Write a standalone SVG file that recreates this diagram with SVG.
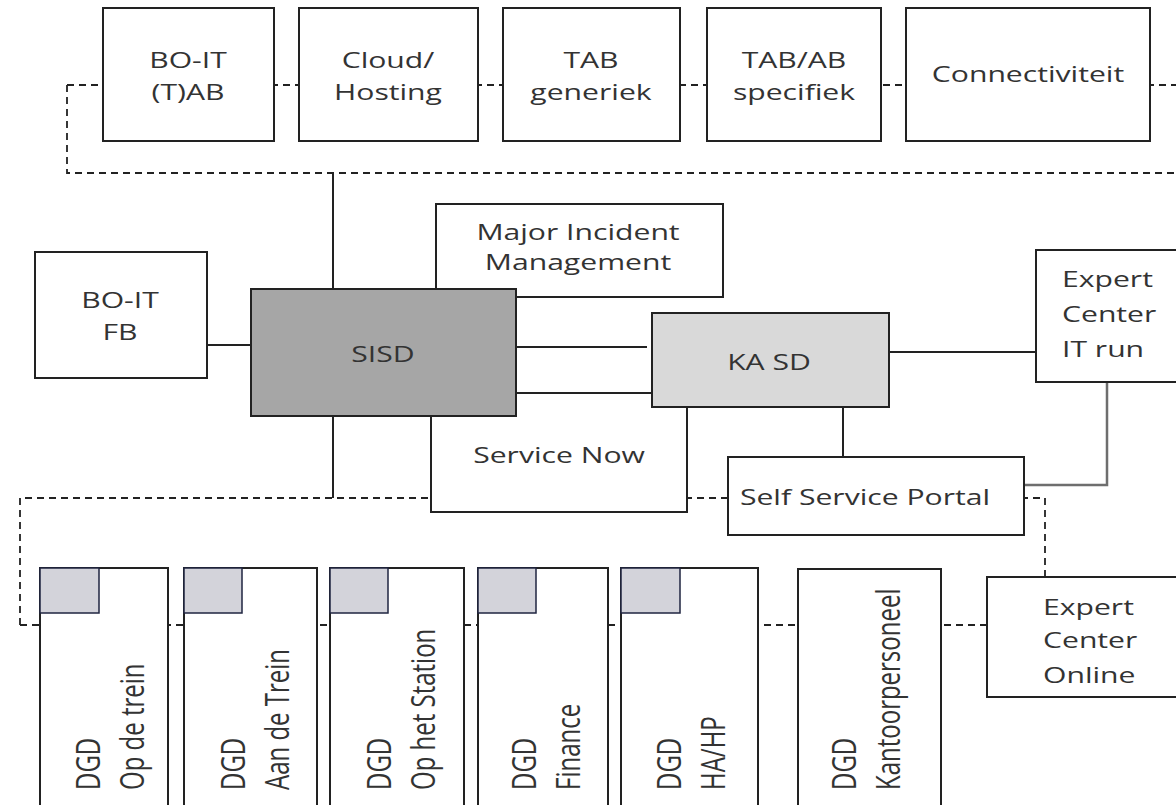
<svg xmlns="http://www.w3.org/2000/svg" width="1176" height="805" viewBox="0 0 1176 805">
<style>
.b{fill:#fff;stroke:#222;stroke-width:2}
.sisd{fill:#a6a6a6;stroke:#222;stroke-width:2}
.ka{fill:#d9d9d9;stroke:#222;stroke-width:2}
.sq{fill:#d3d3da;stroke:#1f2540;stroke-width:1.5}
.ln{fill:none;stroke:#222;stroke-width:2}
.gl{fill:none;stroke:#6e6e6e;stroke-width:2.5}
.dl{fill:none;stroke:#222;stroke-width:1.8;stroke-dasharray:7 5}
text{font-family:"Open Sans","Noto Sans","DejaVu Sans",sans-serif;font-size:22px;fill:#333}
.r{font-size:24px}
.c{text-anchor:middle}
</style>
<rect width="1176" height="805" fill="#fff"/>
<g id="connectors">
<path class="dl" d="M67,85 H1176 M67,85 V173 H1176"/>
<path class="ln" d="M333,173 V289"/>
<path class="ln" d="M207,345 H251"/>
<path class="ln" d="M516,347 H647"/>
<path class="ln" d="M889,352 H1036"/>
<path class="ln" d="M843,407 V457"/>
<path class="ln" d="M333,416 V498"/>
<path class="gl" d="M1107,382 V485 H1024"/>
<path class="dl" d="M20,625 V498 H1045 V577"/>
<path class="dl" d="M20,625 H987"/>
</g>
<g id="n-bo-it-tab"><rect class="b" x="103" y="8" width="171" height="133"/>
<text class="c" transform="translate(188 68) scale(1.37 1)">BO-IT</text>
<text class="c" transform="translate(188 100) scale(1.37 1)">(T)AB</text></g>
<g id="n-cloud"><rect class="b" x="299" y="8" width="179" height="133"/>
<text class="c" transform="translate(388 68) scale(1.37 1)">Cloud/</text>
<text class="c" transform="translate(388 100) scale(1.37 1)">Hosting</text></g>
<g id="n-tab-generiek"><rect class="b" x="503" y="8" width="177" height="133"/>
<text class="c" transform="translate(591 68) scale(1.37 1)">TAB</text>
<text class="c" transform="translate(591 100) scale(1.37 1)">generiek</text></g>
<g id="n-tab-specifiek"><rect class="b" x="707" y="8" width="174" height="133"/>
<text class="c" transform="translate(794 68) scale(1.37 1)">TAB/AB</text>
<text class="c" transform="translate(794 100) scale(1.37 1)">specifiek</text></g>
<g id="n-connectiviteit"><rect class="b" x="906" y="8" width="244" height="133"/>
<text class="c" transform="translate(1028 82) scale(1.37 1)">Connectiviteit</text></g>
<g id="n-bo-it-fb"><rect class="b" x="35" y="252" width="172" height="126"/>
<text class="c" transform="translate(120 308) scale(1.37 1)">BO-IT</text>
<text class="c" transform="translate(120 340) scale(1.37 1)">FB</text></g>
<g id="n-mim"><rect class="b" x="436" y="204" width="287" height="93"/>
<text class="c" transform="translate(578 240) scale(1.37 1)">Major Incident</text>
<text class="c" transform="translate(578 270) scale(1.37 1)">Management</text></g>
<g id="n-service-now"><rect class="b" x="431" y="393" width="256" height="119"/>
<text class="c" transform="translate(559 463) scale(1.37 1)">Service Now</text></g>
<g id="n-sisd"><rect class="sisd" x="251" y="289" width="265" height="127"/>
<text class="c" transform="translate(383 362) scale(1.37 1)">SISD</text></g>
<g id="n-ka-sd"><rect class="ka" x="652" y="313" width="237" height="94"/>
<text class="c" transform="translate(769 370) scale(1.37 1)">KA SD</text></g>
<g id="n-ec-it-run"><rect class="b" x="1036" y="250" width="150" height="132"/>
<text transform="translate(1062 287) scale(1.37 1)">Expert</text>
<text transform="translate(1062 322) scale(1.37 1)">Center</text>
<text transform="translate(1062 357) scale(1.37 1)">IT run</text></g>
<g id="n-ssp"><rect class="b" x="728" y="457" width="296" height="78"/>
<text class="c" transform="translate(865 505) scale(1.37 1)">Self Service Portal</text></g>
<g id="n-ec-online"><rect class="b" x="987" y="577" width="200" height="120"/>
<text transform="translate(1043 615) scale(1.37 1)">Expert</text>
<text transform="translate(1043 648) scale(1.37 1)">Center</text>
<text transform="translate(1043 683) scale(1.37 1)">Online</text></g>
<g id="n-dgd-op-de-trein"><rect class="b" x="40" y="568" width="128" height="250"/>
<rect class="sq" x="40" y="568" width="59" height="45"/>
<text class="r" transform="translate(100 790) rotate(-90) scale(1 1.37)">DGD</text>
<text class="r" transform="translate(144 790) rotate(-90) scale(1 1.37)">Op de trein</text></g>
<g id="n-dgd-aan-de-trein"><rect class="b" x="184" y="568" width="133" height="250"/>
<rect class="sq" x="184" y="568" width="58" height="45"/>
<text class="r" transform="translate(245 790) rotate(-90) scale(1 1.37)">DGD</text>
<text class="r" transform="translate(289 790) rotate(-90) scale(1 1.37)">Aan de Trein</text></g>
<g id="n-dgd-op-het-station"><rect class="b" x="330" y="568" width="134" height="250"/>
<rect class="sq" x="330" y="568" width="58" height="45"/>
<text class="r" transform="translate(391 790) rotate(-90) scale(1 1.37)">DGD</text>
<text class="r" transform="translate(435 790) rotate(-90) scale(1 1.37)">Op het Station</text></g>
<g id="n-dgd-finance"><rect class="b" x="478" y="568" width="130" height="250"/>
<rect class="sq" x="478" y="568" width="58" height="45"/>
<text class="r" transform="translate(536 790) rotate(-90) scale(1 1.37)">DGD</text>
<text class="r" transform="translate(580 790) rotate(-90) scale(1 1.37)">Finance</text></g>
<g id="n-dgd-ha-hp"><rect class="b" x="621" y="568" width="137" height="250"/>
<rect class="sq" x="621" y="568" width="59" height="45"/>
<text class="r" transform="translate(681 790) rotate(-90) scale(1 1.37)">DGD</text>
<text class="r" transform="translate(725 790) rotate(-90) scale(1 1.37)">HA/HP</text></g>
<g id="n-dgd-kantoorpersoneel"><rect class="b" x="798" y="569" width="143" height="250"/>
<text class="r" transform="translate(856 790) rotate(-90) scale(1 1.37)">DGD</text>
<text class="r" transform="translate(900 790) rotate(-90) scale(1 1.37)">Kantoorpersoneel</text></g>
</svg>
